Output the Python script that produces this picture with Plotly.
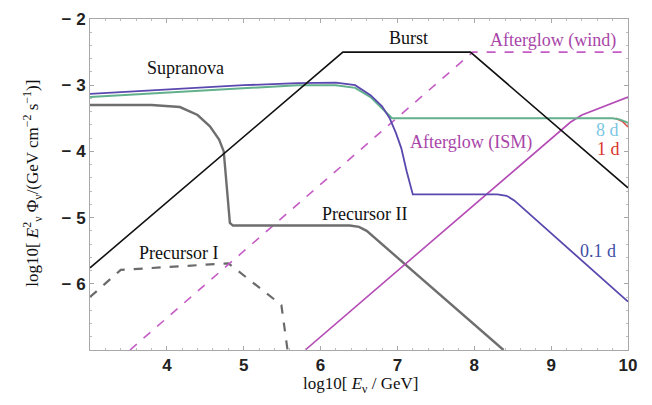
import plotly.graph_objects as go

# ---- data (log10 E [GeV], log10 E^2 Phi) ----
burst_x = [3.0, 6.29, 7.95, 10.0]
burst_y = [-5.76, -2.5, -2.5, -4.55]

wind_x = [3.52, 7.98, 10.0]
wind_y = [-7.0, -2.5, -2.5]

ism_x = [5.8, 9.1, 9.25, 9.4, 9.6, 10.0]
ism_y = [-7.0, -3.7, -3.56, -3.45, -3.36, -3.18]

sn01_x = [3.0, 4.0, 5.0, 5.7, 6.2, 6.45, 6.65, 6.8, 6.9, 6.98, 7.05, 7.12, 7.2, 8.3, 8.42, 8.52, 10.0]
sn01_y = [-3.13, -3.07, -3.0, -2.97, -2.96, -3.0, -3.15, -3.32, -3.5, -3.72, -3.95, -4.3, -4.65, -4.65, -4.67, -4.74, -6.27]

sn8_x = [3.0, 4.0, 5.0, 5.7, 6.2, 6.45, 6.65, 6.8, 6.93, 7.0, 9.8, 9.9, 10.0]
sn8_y = [-3.18, -3.11, -3.04, -3.0, -3.0, -3.04, -3.18, -3.35, -3.5, -3.5, -3.5, -3.52, -3.57]

sn1_x = [9.84, 9.93, 10.0]
sn1_y = [-3.5, -3.55, -3.63]

pre2_x = [3.0, 3.8, 4.17, 4.4, 4.56, 4.68, 4.74, 4.78, 4.82, 4.86, 6.38, 6.5, 6.6, 8.38]
pre2_y = [-3.3, -3.3, -3.33, -3.45, -3.62, -3.82, -4.0, -4.5, -5.08, -5.12, -5.12, -5.14, -5.2, -7.0]

pre1_x = [3.0, 3.4, 4.8, 5.49, 5.57]
pre1_y = [-6.2, -5.79, -5.69, -6.32, -7.0]

x_ticks = [4, 5, 6, 7, 8, 9, 10]
x_ticktext = ["<b>4</b>", "<b>5</b>", "<b>6</b>", "<b>7</b>", "<b>8</b>", "<b>9</b>", "<b>10</b>"]
y_ticks = [-2, -3, -4, -5, -6]
y_ticktext = ["<b>\u2212 2</b>", "<b>\u2212 3</b>", "<b>\u2212 4</b>", "<b>\u2212 5</b>", "<b>\u2212 6</b>"]

labels = [
    ("Supranova", 4.24, -2.74, "#111111"),
    ("Burst", 7.15, -2.29, "#111111"),
    ("Afterglow (wind)", 9.02, -2.32, "#A845A8"),
    ("Afterglow (ISM)", 7.96, -3.86, "#A845A8"),
    ("8 d", 9.73, -3.68, "#7CC6E2"),
    ("1 d", 9.74, -3.96, "#D9342B"),
    ("0.1 d", 9.61, -5.5, "#3F4FA6"),
    ("Precursor II", 6.57, -4.95, "#111111"),
    ("Precursor I", 4.15, -5.53, "#111111"),
]

fig = go.Figure()

def add(x, y, color, width, dash="solid"):
    fig.add_trace(go.Scatter(x=x, y=y, mode="lines", line=dict(color=color, width=width, dash=dash),
                             showlegend=False, hoverinfo="skip"))

add(pre1_x, pre1_y, "#6a6a6a", 2.2, "dash")
add(wind_x, wind_y, "#C55BC5", 1.6, "dash")
add(pre2_x, pre2_y, "#6e6e6e", 2.4)
add(ism_x, ism_y, "#B54BB5", 1.6)
add(sn1_x, sn1_y, "#E0504A", 1.6)
add(sn8_x, sn8_y, "#62B08C", 2.0)
add(sn01_x, sn01_y, "#5A48AE", 1.8)
add(burst_x, burst_y, "#111111", 1.6)

for text, x, y, c in labels:
    fig.add_annotation(x=x, y=y, text=text, showarrow=False,
                       font=dict(family="Liberation Serif", size=18, color=c))

# axis titles as annotations
fig.add_annotation(xref="paper", yref="paper", x=0.502, y=-0.106, xanchor="center", yanchor="middle",
                   text="log10[ <i>E</i><sub>\u03bd</sub> / GeV]",
                   showarrow=False, font=dict(family="Liberation Serif", size=17, color="#111111"))
fig.add_annotation(xref="paper", yref="paper", x=-0.106, y=0.505, xanchor="center", yanchor="middle",
                   textangle=-90,
                   text="log10[ <i>E</i><sup>2</sup><sub>\u03bd</sub> \u03a6<sub>\u03bd</sub>/(GeV cm<sup>\u22122</sup> s<sup>\u22121</sup>)]",
                   showarrow=False, font=dict(family="Liberation Serif", size=17, color="#111111"))

axis_common = dict(showline=True, mirror="allticks", linecolor="#a8a8a8", linewidth=1,
                   ticks="inside", ticklen=4, tickcolor="#a8a8a8", showgrid=False, zeroline=False,
                   automargin=False,
                   tickfont=dict(family="Liberation Sans", size=17, color="#222222"))

fig.update_xaxes(range=[3, 10], tickvals=x_ticks, ticktext=x_ticktext,
                 minor=dict(ticks="inside", ticklen=2, dtick=0.2, tickcolor="#bbbbbb"),
                 **axis_common)
fig.update_yaxes(range=[-7, -2], tickvals=y_ticks, ticktext=y_ticktext,
                 minor=dict(ticks="inside", ticklen=2, dtick=0.2, tickcolor="#bbbbbb"),
                 **axis_common)

# page body has an 8px default margin, so the figure is sized/offset to compensate
fig.update_layout(width=644, height=397, margin=dict(l=82, r=24, t=11, b=55),
                  plot_bgcolor="white", paper_bgcolor="white")

fig.write_html("out.html")
